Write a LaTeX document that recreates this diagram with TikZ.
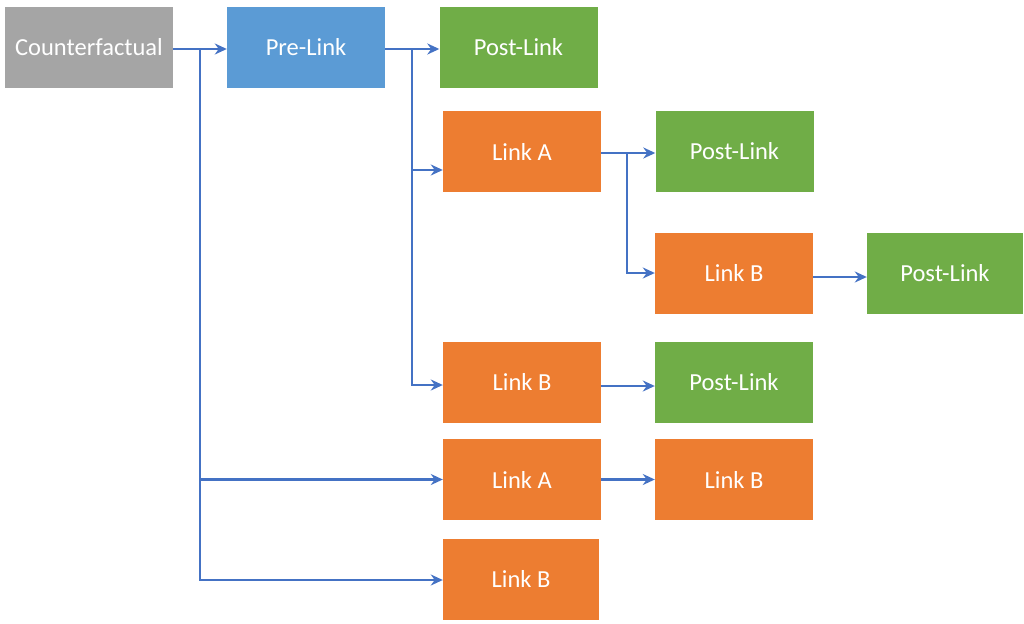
\documentclass[tikz,border=0pt]{standalone}
\usepackage{fontspec}
\setmainfont{Carlito}
\usetikzlibrary{arrows.meta}
\definecolor{boxgray}{HTML}{A5A5A5}
\definecolor{boxblue}{HTML}{5B9BD5}
\definecolor{boxgreen}{HTML}{70AD47}
\definecolor{boxorange}{HTML}{ED7D31}
\definecolor{linkline}{HTML}{4472C4}
\tikzset{
  stagebox/.style={rectangle, inner sep=0pt, text=white,
    minimum width=158pt, minimum height=81pt,
    font=\fontsize{24.5}{29}\selectfont},
  counter/.style={stagebox, fill=boxgray, minimum width=168pt},
  pre/.style={stagebox, fill=boxblue},
  post/.style={stagebox, fill=boxgreen},
  link/.style={stagebox, fill=boxorange},
  flow/.style={draw=linkline, line width=2.6pt,
    -{Stealth[length=12pt,width=11pt]}},
  trunk/.style={draw=linkline, line width=2.6pt}
}
\begin{document}
\begin{tikzpicture}[x=1pt,y=-1pt]
  \useasboundingbox (0,0) rectangle (1024,623);

  % column 1 and 2
  \node[counter] (cf)   at (89,47.5)   {Counterfactual};
  \node[pre]     (pre)  at (306,47.5)  {Pre-Link};

  % column 3
  \node[post] (post1) at (518.5,47.5) {Post-Link};
  \node[link] (la1)   at (522,151.5)  {Link A};
  \node[link] (lb2)   at (522,382)    {Link B};
  \node[link] (la2)   at (522,479.5)  {Link A};
  \node[link, minimum width=156pt] (lb4) at (521,579) {Link B};

  % column 4
  \node[post] (post2) at (734.5,151.5) {Post-Link};
  \node[link] (lb1)   at (734,273)     {Link B};
  \node[post] (post4) at (734,382)     {Post-Link};
  \node[link] (lb3)   at (734,479.5)   {Link B};

  % column 5
  \node[post, minimum width=156pt] (post3) at (945,273) {Post-Link};

  % branch points
  \coordinate (j1) at (200,49);
  \coordinate (j2) at (412,49);
  \coordinate (j3) at (627,153);

  % connectors
  \draw[flow] (cf.east |- j1) -- (pre.west |- j1);
  \draw[trunk] (j1) -- (200,580);
  \draw[flow] (j1) |- (la2.west);
  \draw[flow] (j1) |- ([yshift=-1pt]lb4.west);

  \draw[flow] (pre.east |- j2) -- (post1.west |- j2);
  \draw[flow] (j2) |- ([yshift=-18.5pt]la1.west);
  \draw[flow] (j2) |- ([yshift=-3pt]lb2.west);

  \draw[flow] (la1.east |- j3) -- (post2.west |- j3);
  \draw[flow] (j3) |- (lb1.west);

  \draw[flow] ([yshift=-4pt]lb1.east) -- ([yshift=-4pt]post3.west);
  \draw[flow] ([yshift=-4pt]lb2.east) -- ([yshift=-4pt]post4.west);
  \draw[flow] (la2.east) -- (lb3.west);
\end{tikzpicture}
\end{document}
